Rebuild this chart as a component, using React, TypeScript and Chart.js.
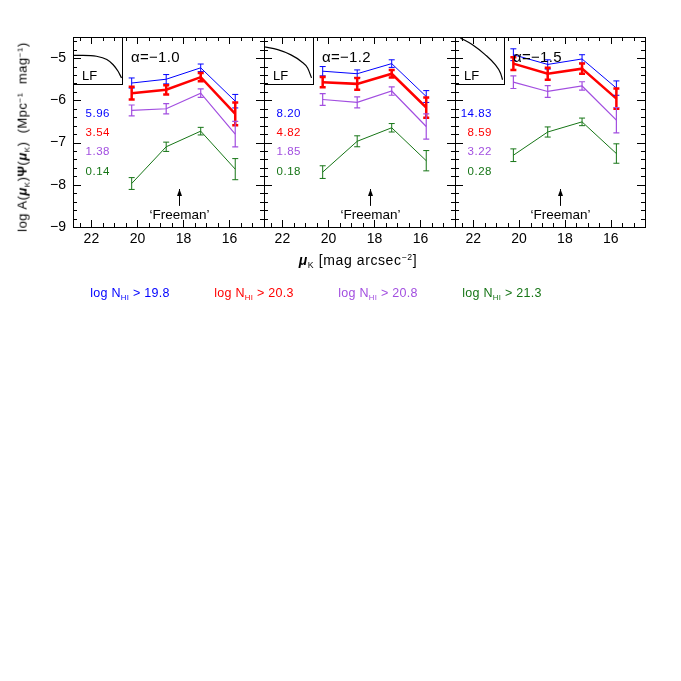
import React, { useEffect, useRef } from "react";
import { Chart, registerables } from "chart.js";
Chart.register(...registerables);

// ---------------- data ----------------
const muK = [20.25, 18.75, 17.25, 15.75];
const xTickValues = [22, 20, 18, 16];
const yTickValues = [-9, -8, -7, -6, -5];
const alphaLabels = ["α=−1.0", "α=−1.2", "α=−1.5"];
const nhiThresholds = ["19.8", "20.3", "20.8", "21.3"];
const freemanMu = 18.2;

// panel A (alpha = -1.0)
const blueA = [-5.59, -5.5, -5.23, -6.02];
const blueAErr = [0.12, 0.11, 0.09, 0.16];
const redA = [-5.83, -5.75, -5.45, -6.32];
const redAErr = [0.15, 0.11, 0.1, 0.27];
const purpleA = [-6.24, -6.2, -5.83, -6.8];
const purpleAErr = [0.13, 0.12, 0.1, 0.3];
const greenA = [-7.97, -7.1, -6.73, -7.63];
const greenAErr = [0.14, 0.11, 0.09, 0.25];
const sumsA = ["5.96", "3.54", "1.38", "0.14"];
const lfXA = [0, 0.2, 0.48, 0.69, 0.82, 0.92, 0.99];
const lfYA = [0.61, 0.61, 0.59, 0.52, 0.41, 0.27, 0.13];

// panel B (alpha = -1.2)
const blueB = [-5.31, -5.37, -5.13, -5.91];
const blueBErr = [0.11, 0.09, 0.09, 0.14];
const redB = [-5.57, -5.61, -5.37, -6.17];
const redBErr = [0.12, 0.14, 0.09, 0.24];
const purpleB = [-5.98, -6.05, -5.78, -6.62];
const purpleBErr = [0.14, 0.13, 0.1, 0.3];
const greenB = [-7.7, -6.97, -6.65, -7.43];
const greenBErr = [0.15, 0.13, 0.1, 0.24];
const sumsB = ["8.20", "4.82", "1.85", "0.18"];
const lfXB = [0, 0.28, 0.55, 0.76, 0.89, 0.97];
const lfYB = [0.79, 0.73, 0.62, 0.48, 0.34, 0.13];

// panel C (alpha = -1.5)
const blueC = [-4.92, -5.15, -5.02, -5.71];
const blueCErr = [0.14, 0.11, 0.1, 0.17];
const redC = [-5.13, -5.37, -5.25, -5.96];
const redCErr = [0.15, 0.14, 0.12, 0.24];
const purpleC = [-5.57, -5.79, -5.66, -6.47];
const purpleCErr = [0.15, 0.14, 0.1, 0.3];
const greenC = [-7.3, -6.75, -6.51, -7.26];
const greenCErr = [0.15, 0.12, 0.09, 0.23];
const sumsC = ["14.83", "8.59", "3.22", "0.28"];
const lfXC = [0.11, 0.35, 0.62, 0.82, 0.93, 0.97];
const lfYC = [0.98, 0.84, 0.62, 0.41, 0.23, 0.09];

const panels = [
  {
    series: [[blueA, blueAErr], [redA, redAErr], [purpleA, purpleAErr], [greenA, greenAErr]],
    sums: sumsA, lfX: lfXA, lfY: lfYA, alpha: alphaLabels[0],
  },
  {
    series: [[blueB, blueBErr], [redB, redBErr], [purpleB, purpleBErr], [greenB, greenBErr]],
    sums: sumsB, lfX: lfXB, lfY: lfYB, alpha: alphaLabels[1],
  },
  {
    series: [[blueC, blueCErr], [redC, redCErr], [purpleC, purpleCErr], [greenC, greenCErr]],
    sums: sumsC, lfX: lfXC, lfY: lfYC, alpha: alphaLabels[2],
  },
];

// ---------------- styles / layout ----------------
const FONT = "'Liberation Sans', Arial, Helvetica, sans-serif";
const seriesColors = ["#0000ff", "#ff0000", "#a24ee0", "#167516"];
const seriesWidths = [1, 2.5, 1.2, 1];
const panelLeft = [73, 264, 455];
const panelRight = [264, 455, 645];
const plotTop = 37;
const plotBottom = 227;
const X_MIN = 14.5;
const X_MAX = 22.8;
const Y_MIN = -9;
const Y_MAX = -4.5;
const W = 681;

const framePlugin = {
  id: "frameTicks",
  afterDatasetsDraw(chart: any) {
    const { ctx, scales } = chart;
    const x = scales.x;
    const y = scales.y;
    chart.data.datasets.forEach((ds: any) => {
      const errs = ds.errors;
      if (!errs) return;
      ctx.save();
      ctx.strokeStyle = ds.borderColor;
      ctx.lineWidth = ds.borderWidth;
      ds.data.forEach((p: any, j: number) => {
        const px = x.getPixelForValue(p.x);
        const yt = y.getPixelForValue(p.y + errs[j]);
        const yb = y.getPixelForValue(p.y - errs[j]);
        ctx.beginPath();
        ctx.moveTo(px, yt);
        ctx.lineTo(px, yb);
        ctx.moveTo(px - 3, yt);
        ctx.lineTo(px + 3, yt);
        ctx.moveTo(px - 3, yb);
        ctx.lineTo(px + 3, yb);
        ctx.stroke();
      });
      ctx.restore();
    });
  },
  afterDraw(chart: any) {
    const { ctx, chartArea: a, scales } = chart;
    const x = scales.x;
    const y = scales.y;
    ctx.save();
    ctx.strokeStyle = "#000";
    ctx.lineWidth = 1;
    ctx.strokeRect(Math.round(a.left) + 0.5, Math.round(a.top) + 0.5, Math.round(a.right - a.left), Math.round(a.bottom - a.top));
    ctx.beginPath();
    for (let i = 0; i <= 22; i++) {
      const v = Y_MIN + i * 0.2;
      if (v > Y_MAX + 1e-6) break;
      const py = Math.round(y.getPixelForValue(v)) + 0.5;
      const major = Math.abs(v - Math.round(v)) < 1e-6;
      const len = major ? 8 : 4;
      ctx.moveTo(a.left, py);
      ctx.lineTo(a.left + len, py);
      ctx.moveTo(a.right, py);
      ctx.lineTo(a.right - len, py);
    }
    for (let i = 0; i <= 20; i++) {
      const v = 15 + i * 0.5;
      if (v > X_MAX) break;
      const px = Math.round(x.getPixelForValue(v)) + 0.5;
      const major = Math.abs(v / 2 - Math.round(v / 2)) < 1e-6;
      const len = major ? 7 : 4;
      ctx.moveTo(px, a.bottom);
      ctx.lineTo(px, a.bottom - len);
      ctx.moveTo(px, a.top);
      ctx.lineTo(px, a.top + len);
    }
    ctx.stroke();

    // 'Freeman' arrow and label
    const fx = Math.round(x.getPixelForValue(freemanMu)) + 0.5;
    const tip = y.getPixelForValue(-8.1);
    const tail = y.getPixelForValue(-8.5);
    ctx.beginPath();
    ctx.moveTo(fx, tail);
    ctx.lineTo(fx, tip);
    ctx.stroke();
    ctx.beginPath();
    ctx.moveTo(fx, tip);
    ctx.lineTo(fx - 2.5, tip + 7);
    ctx.lineTo(fx + 2.5, tip + 7);
    ctx.closePath();
    ctx.fillStyle = "#000";
    ctx.fill();
    ctx.font = `13.5px ${FONT}`;
    ctx.textAlign = "center";
    ctx.textBaseline = "middle";
    ctx.fillText("‘Freeman’", fx, y.getPixelForValue(-8.72));
    ctx.restore();
  },
};

function MainPanel({ idx }: { idx: number }) {
  const ref = useRef<HTMLCanvasElement>(null);
  useEffect(() => {
    const p = panels[idx];
    const showY = idx === 0;
    const L = panelLeft[idx];
    const R = panelRight[idx];
    const chart = new Chart(ref.current as HTMLCanvasElement, {
      type: "line",
      data: {
        datasets: p.series.map((s, k) => ({
          data: muK.map((m, j) => ({ x: m, y: s[0][j] })),
          errors: s[1],
          borderColor: seriesColors[k],
          borderWidth: seriesWidths[k],
          pointRadius: 0,
          tension: 0,
          fill: false,
        })) as any,
      },
      options: {
        animation: false,
        responsive: false,
        events: [],
        layout: {
          padding: {
            left: showY ? L - 40 : L,
            right: W - R,
            top: plotTop,
            bottom: W - plotBottom - 22,
          },
        },
        plugins: { legend: { display: false }, tooltip: { enabled: false } },
        scales: {
          x: {
            type: "linear",
            reverse: true,
            min: X_MIN,
            max: X_MAX,
            grid: { display: false, drawTicks: false },
            border: { display: false },
            afterBuildTicks: (s: any) => {
              s.ticks = xTickValues.map((v) => ({ value: v }));
            },
            afterFit: (s: any) => {
              s.height = 22;
            },
            ticks: {
              padding: 4,
              color: "#000",
              autoSkip: false,
              maxRotation: 0,
              font: { family: FONT, size: 14 },
              callback: (v: any) => String(v),
            },
          },
          y: {
            type: "linear",
            display: showY,
            min: Y_MIN,
            max: Y_MAX,
            grid: { display: false, drawTicks: false },
            border: { display: false },
            afterBuildTicks: (s: any) => {
              s.ticks = yTickValues.map((v) => ({ value: v }));
            },
            afterFit: (s: any) => {
              s.width = showY ? 40 : 0;
            },
            ticks: {
              padding: 7,
              color: "#000",
              font: { family: FONT, size: 14 },
              callback: (v: any) => (v < 0 ? "−" + Math.abs(v) : String(v)),
            },
          },
        },
      } as any,
      plugins: [framePlugin],
    });
    return () => chart.destroy();
  }, [idx]);
  return (
    <canvas
      ref={ref}
      width={W}
      height={W}
      style={{ position: "absolute", left: 0, top: 0, width: W, height: W }}
    />
  );
}

function LFInset({ idx }: { idx: number }) {
  const ref = useRef<HTMLCanvasElement>(null);
  useEffect(() => {
    const p = panels[idx];
    const chart = new Chart(ref.current as HTMLCanvasElement, {
      type: "line",
      data: {
        datasets: [
          {
            data: p.lfX.map((v, j) => ({ x: v, y: p.lfY[j] })),
            borderColor: "#000",
            borderWidth: 1.2,
            pointRadius: 0,
            cubicInterpolationMode: "monotone",
            fill: false,
          },
        ] as any,
      },
      options: {
        animation: false,
        responsive: false,
        events: [],
        layout: { padding: 0 },
        plugins: { legend: { display: false }, tooltip: { enabled: false } },
        scales: {
          x: { type: "linear", display: false, min: 0, max: 1 },
          y: { type: "linear", display: false, min: 0, max: 1 },
        },
      } as any,
    });
    return () => chart.destroy();
  }, [idx]);
  const L = panelLeft[idx];
  return (
    <div
      style={{
        position: "absolute",
        left: L,
        top: plotTop,
        width: 49,
        height: 47,
        borderRight: "1px solid #000",
        borderBottom: "1px solid #000",
      }}
    >
      <canvas ref={ref} width={49} height={47} style={{ position: "absolute", left: 0, top: 0, width: 49, height: 47 }} />
      <div style={{ position: "absolute", left: 9, top: 31, font: `13px ${FONT}`, color: "#000" }}>LF</div>
    </div>
  );
}

const sumRows = [114, 133, 152, 172];
const legendCenters = [130, 254, 378, 502];

const sub: React.CSSProperties = { fontSize: "0.62em", verticalAlign: "-0.35em" };
const sup: React.CSSProperties = { fontSize: "0.62em", verticalAlign: "0.55em" };

export default function App() {
  return (
    <div
      style={{
        position: "fixed",
        left: 0,
        top: 0,
        width: W,
        height: W,
        background: "#fff",
        fontFamily: FONT,
        overflow: "hidden",
      }}
    >
      {[0, 1, 2].map((i) => (
        <MainPanel key={"m" + i} idx={i} />
      ))}
      {[0, 1, 2].map((i) => (
        <LFInset key={"l" + i} idx={i} />
      ))}
      {[0, 1, 2].map((i) => (
        <div
          key={"a" + i}
          style={{ position: "absolute", left: panelLeft[i] + 58, top: 48, fontSize: 15, color: "#000", whiteSpace: "nowrap", letterSpacing: 0.3 }}
        >
          {panels[i].alpha}
        </div>
      ))}
      {[0, 1, 2].map((i) =>
        panels[i].sums.map((s, k) => (
          <div
            key={"s" + i + k}
            style={{
              position: "absolute",
              right: W - (panelLeft[i] + 37),
              top: sumRows[k] - 7,
              fontSize: 11.5,
              letterSpacing: 0.5,
              color: seriesColors[k],
              whiteSpace: "nowrap",
            }}
          >
            {s}
          </div>
        ))
      )}
      {/* y axis title */}
      <div
        style={{
          position: "absolute",
          left: 23,
          top: 137,
          transform: "translate(-50%, -50%) rotate(-90deg)",
          whiteSpace: "nowrap",
          fontSize: 13,
          letterSpacing: 0.5,
          color: "#000",
        }}
      >
        log A(<b><i>μ</i></b><span style={sub}>K</span>)<b>Ψ</b>(<b><i>μ</i></b><span style={sub}>K</span>)&nbsp;&nbsp;(Mpc<span style={sup}>−1</span>&nbsp; mag<span style={sup}>−1</span>)
      </div>
      {/* x axis title */}
      <div
        style={{
          position: "absolute",
          left: 358,
          top: 261,
          transform: "translate(-50%, -50%)",
          whiteSpace: "nowrap",
          fontSize: 14,
          letterSpacing: 0.6,
          color: "#000",
        }}
      >
        <b><i>μ</i></b><span style={sub}>K</span> [mag arcsec<span style={sup}>−2</span>]
      </div>
      {/* legend */}
      {nhiThresholds.map((t, k) => (
        <div
          key={"g" + k}
          style={{
            position: "absolute",
            left: legendCenters[k],
            top: 294,
            transform: "translate(-50%, -50%)",
            whiteSpace: "nowrap",
            fontSize: 12.5,
            letterSpacing: 0.3,
            color: seriesColors[k],
          }}
        >
          log N<span style={sub}>HI</span> &gt; {t}
        </div>
      ))}
    </div>
  );
}
